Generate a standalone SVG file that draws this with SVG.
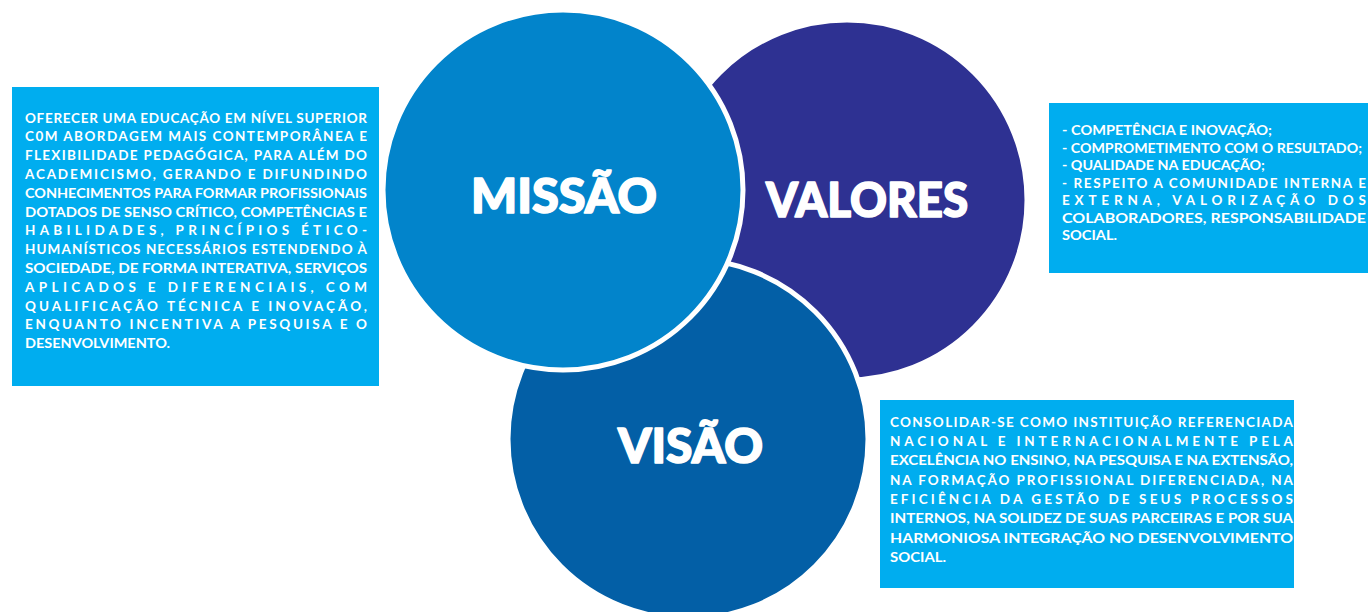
<svg xmlns="http://www.w3.org/2000/svg" width="1368" height="612" viewBox="0 0 1368 612">
<style>
.box{fill:#00ADEF}
.c{stroke:#FFFFFF;stroke-width:5}
.lbl{font-family:Lato,"Liberation Sans",sans-serif;font-weight:900;font-size:47px;fill:#FFFFFF;stroke:#FFFFFF;stroke-width:1.6;stroke-linejoin:round}
.t{font-family:Lato,"Liberation Sans",sans-serif;font-weight:700;font-size:13.5px;fill:#FFFFFF}
</style>
<rect width="1368" height="612" fill="#FFFFFF"/>
<g id="valores">
<circle class="c" cx="847" cy="200" r="180" fill="#2E3192"/>
<text class="lbl" x="766" y="217" textLength="202" lengthAdjust="spacingAndGlyphs">VALORES</text>
</g>
<g id="visao">
<circle class="c" cx="688" cy="439" r="180" fill="#035FA6"/>
<text class="lbl" x="618" y="463" textLength="145" lengthAdjust="spacingAndGlyphs">VISÃO</text>
</g>
<g id="missao">
<circle class="c" cx="563" cy="190" r="180" fill="#0284CB"/>
<text class="lbl" x="471" y="213" textLength="186" lengthAdjust="spacingAndGlyphs">MISSÃO</text>
</g>
<g id="missao-texto">
<rect class="box" x="12" y="87" width="367" height="299"/>
<text class="t" x="25" y="122.5" textLength="342" lengthAdjust="spacing">OFERECER UMA EDUCAÇÃO EM NÍVEL SUPERIOR</text>
<text class="t" x="25" y="141.3" textLength="342" lengthAdjust="spacing">C0M ABORDAGEM MAIS CONTEMPORÂNEA E</text>
<text class="t" x="25" y="160.1" textLength="342" lengthAdjust="spacing">FLEXIBILIDADE PEDAGÓGICA, PARA ALÉM DO</text>
<text class="t" x="25" y="178.9" textLength="342" lengthAdjust="spacing">ACADEMICISMO, GERANDO E DIFUNDINDO</text>
<text class="t" x="25" y="197.7" textLength="342" lengthAdjust="spacingAndGlyphs">CONHECIMENTOS PARA FORMAR PROFISSIONAIS</text>
<text class="t" x="25" y="216.5" textLength="342" lengthAdjust="spacingAndGlyphs">DOTADOS DE SENSO CRÍTICO, COMPETÊNCIAS E</text>
<text class="t" x="25" y="235.3" textLength="342" lengthAdjust="spacing">HABILIDADES, PRINCÍPIOS ÉTICO-</text>
<text class="t" x="25" y="254.1" textLength="342" lengthAdjust="spacing">HUMANÍSTICOS NECESSÁRIOS ESTENDENDO À</text>
<text class="t" x="25" y="272.9" textLength="342" lengthAdjust="spacingAndGlyphs">SOCIEDADE, DE FORMA INTERATIVA, SERVIÇOS</text>
<text class="t" x="25" y="291.7" textLength="342" lengthAdjust="spacing">APLICADOS E DIFERENCIAIS, COM</text>
<text class="t" x="25" y="310.5" textLength="342" lengthAdjust="spacing">QUALIFICAÇÃO TÉCNICA E INOVAÇÃO,</text>
<text class="t" x="25" y="329.3" textLength="342" lengthAdjust="spacing">ENQUANTO INCENTIVA A PESQUISA E O</text>
<text class="t" x="25" y="348.1" textLength="145" lengthAdjust="spacingAndGlyphs">DESENVOLVIMENTO.</text>
</g>
<g id="valores-texto">
<rect class="box" x="1049" y="103" width="319" height="170"/>
<text class="t" x="1062" y="135" textLength="210" lengthAdjust="spacingAndGlyphs">- COMPETÊNCIA E INOVAÇÃO;</text>
<text class="t" x="1062" y="152.5" textLength="300" lengthAdjust="spacingAndGlyphs">- COMPROMETIMENTO COM O RESULTADO;</text>
<text class="t" x="1062" y="170" textLength="203" lengthAdjust="spacingAndGlyphs">- QUALIDADE NA EDUCAÇÃO;</text>
<text class="t" x="1062" y="187.5" textLength="304" lengthAdjust="spacing">- RESPEITO A COMUNIDADE INTERNA E</text>
<text class="t" x="1062" y="205" textLength="304" lengthAdjust="spacing">EXTERNA, VALORIZAÇÃO DOS</text>
<text class="t" x="1062" y="222.5" textLength="304" lengthAdjust="spacingAndGlyphs">COLABORADORES, RESPONSABILIDADE</text>
<text class="t" x="1062" y="240" textLength="55" lengthAdjust="spacingAndGlyphs">SOCIAL.</text>
</g>
<g id="visao-texto">
<rect class="box" x="880" y="400" width="414" height="188"/>
<text class="t" x="890" y="426.7" textLength="403" lengthAdjust="spacing">CONSOLIDAR-SE COMO INSTITUIÇÃO REFERENCIADA</text>
<text class="t" x="890" y="446" textLength="403" lengthAdjust="spacing">NACIONAL E INTERNACIONALMENTE PELA</text>
<text class="t" x="890" y="465.3" textLength="403" lengthAdjust="spacingAndGlyphs">EXCELÊNCIA NO ENSINO, NA PESQUISA E NA EXTENSÃO,</text>
<text class="t" x="890" y="484.6" textLength="403" lengthAdjust="spacing">NA FORMAÇÃO PROFISSIONAL  DIFERENCIADA, NA</text>
<text class="t" x="890" y="503.9" textLength="403" lengthAdjust="spacing">EFICIÊNCIA DA GESTÃO DE SEUS  PROCESSOS</text>
<text class="t" x="890" y="523.2" textLength="403" lengthAdjust="spacingAndGlyphs">INTERNOS,  NA SOLIDEZ DE SUAS PARCEIRAS E POR SUA</text>
<text class="t" x="890" y="542.5" textLength="403" lengthAdjust="spacingAndGlyphs">HARMONIOSA INTEGRAÇÃO NO DESENVOLVIMENTO</text>
<text class="t" x="890" y="561.8" textLength="56" lengthAdjust="spacingAndGlyphs">SOCIAL.</text>
</g>
</svg>
